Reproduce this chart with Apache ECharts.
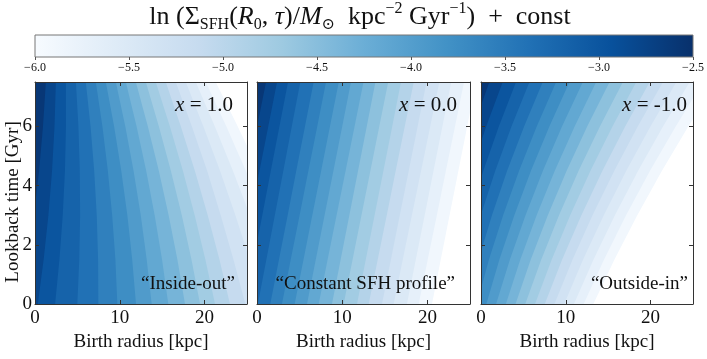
<!DOCTYPE html>
<html>
<head>
<meta charset="utf-8">
<script src="https://cdn.jsdelivr.net/npm/echarts@6/dist/echarts.min.js"></script>
<style>
  html, body { margin: 0; padding: 0; background: #fff; }
  #chart { width: 707px; height: 359px; }
</style>
</head>
<body>
<div id="chart"></div>
<script>
const taus = [0, 1.5, 3, 4.5, 6, 7.5];

// contour levels of ln Sigma_SFH (lowest first)
const levels = [-6.0, -5.806, -5.611, -5.417, -5.222, -5.028, -4.833, -4.639, -4.444,
  -4.25, -4.056, -3.861, -3.667, -3.472, -3.278, -3.083, -2.889, -2.694, -2.5];

// birth radius (kpc) of contour level k at each lookback time, one row per level
const insideOut = [
  [32.99, 30.92, 28.72, 26.38, 23.91, 21.31],
  [30.95, 29.06, 27.03, 24.86, 22.57, 20.14],
  [28.91, 27.18, 25.33, 23.34, 21.21, 18.96],
  [26.87, 25.32, 23.63, 21.82, 19.86, 17.78],
  [24.80, 23.40, 21.90, 20.30, 18.50, 16.60],
  [22.99, 21.75, 20.37, 18.85, 17.20, 15.42],
  [21.23, 20.09, 18.83, 17.44, 15.91, 14.24],
  [19.46, 18.45, 17.31, 16.02, 14.61, 13.07],
  [17.69, 16.79, 15.76, 14.60, 13.31, 11.89],
  [15.72, 14.98, 14.11, 13.11, 11.98, 10.71],
  [13.76, 13.17, 12.47, 11.62, 10.65, 9.53],
  [11.91, 11.46, 10.89, 10.17, 9.33, 8.35],
  [9.71, 9.48, 9.10, 8.59, 7.95, 7.17],
  [7.47, 7.44, 7.28, 6.98, 6.55, 5.99],
  [4.99, 5.22, 5.32, 5.28, 5.12, 4.82],
  [2.37, 2.88, 3.27, 3.53, 3.65, 3.64],
  [0.33, 1.02, 1.58, 2.01, 2.30, 2.46],
  [-1.72, -0.86, -0.12, 0.48, 0.94, 1.28]
];
const constantProfile = [
  [20.54, 21.57, 22.60, 23.64, 24.67, 25.70],
  [18.98, 20.04, 21.11, 22.17, 23.24, 24.30],
  [17.60, 18.64, 19.68, 20.72, 21.76, 22.80],
  [16.04, 17.11, 18.18, 19.26, 20.33, 21.40],
  [14.67, 15.72, 16.76, 17.81, 18.85, 19.90],
  [13.11, 14.17, 15.23, 16.28, 17.34, 18.40],
  [11.74, 12.77, 13.80, 14.84, 15.87, 16.90],
  [10.17, 11.22, 12.26, 13.31, 14.35, 15.40],
  [8.80, 9.82, 10.84, 11.86, 12.88, 13.90],
  [7.24, 8.29, 9.34, 10.40, 11.45, 12.50],
  [5.87, 6.90, 7.93, 8.97, 10.00, 11.03],
  [4.42, 5.46, 6.49, 7.53, 8.56, 9.60],
  [2.93, 3.96, 5.00, 6.03, 7.07, 8.10],
  [1.56, 2.58, 3.60, 4.61, 5.63, 6.65],
  [0.10, 1.10, 2.09, 3.09, 4.08, 5.08],
  [-1.40, -0.39, 0.62, 1.62, 2.63, 3.64],
  [-2.80, -1.77, -0.74, 0.29, 1.32, 2.35],
  [-4.20, -3.15, -2.10, -1.04, 0.01, 1.06]
];
const outsideIn = [
  [13.25, 15.74, 18.43, 21.34, 24.44, 27.76],
  [12.11, 14.51, 17.11, 19.93, 22.96, 26.19],
  [10.96, 13.27, 15.79, 18.53, 21.46, 24.61],
  [9.81, 12.04, 14.48, 17.13, 19.98, 23.04],
  [8.66, 10.80, 13.15, 15.72, 18.48, 21.46],
  [7.52, 9.57, 11.84, 14.32, 17.00, 19.89],
  [6.37, 8.34, 10.52, 12.91, 15.50, 18.31],
  [5.22, 7.11, 9.20, 11.51, 14.02, 16.73],
  [4.07, 5.87, 7.88, 10.10, 12.52, 15.16],
  [2.93, 4.64, 6.56, 8.70, 11.04, 13.58],
  [1.78, 3.41, 5.25, 7.30, 9.55, 12.01],
  [0.63, 2.17, 3.93, 5.89, 8.06, 10.43],
  [-0.51, 0.94, 2.61, 4.49, 6.57, 8.86],
  [-1.66, -0.29, 1.29, 3.08, 5.08, 7.28],
  [-2.81, -1.52, -0.03, 1.68, 3.59, 5.71],
  [-3.96, -2.76, -1.35, 0.27, 2.10, 4.13],
  [-5.10, -3.99, -2.66, -1.13, 0.61, 2.56],
  [-6.25, -5.22, -3.99, -2.53, -0.88, 0.98]
];

const panels = [insideOut, constantProfile, outsideIn];
const panelX = ['1.0', '0.0', '-1.0'];
const panelNotes = ['\u201cInside-out\u201d', '\u201cConstant SFH profile\u201d', '\u201cOutside-in\u201d'];
const cbTicks = [-6.0, -5.5, -5.0, -4.5, -4.0, -3.5, -3.0, -2.5];

// matplotlib "Blues"
const blues = ['#f7fbff', '#deebf7', '#c6dbef', '#9ecae1', '#6baed6', '#4292c6', '#2171b5', '#08519c', '#08306b'];
function hex(c) { return [1, 3, 5].map(i => parseInt(c.slice(i, i + 2), 16)); }
function cmap(v) {
  v = Math.max(0, Math.min(1, v)) * (blues.length - 1);
  const i = Math.min(Math.floor(v), blues.length - 2), t = v - i;
  const a = hex(blues[i]), b = hex(blues[i + 1]);
  return 'rgb(' + a.map((x, j) => Math.round(x + (b[j] - x) * t)).join(',') + ')';
}
const lo = levels[0], hi = levels[levels.length - 1];
function bandColor(i) {
  const mid = (levels[i] + levels[i + 1]) / 2;
  return cmap((mid - lo) / (hi - lo));
}

const serif = '"Liberation Serif", "DejaVu Serif", serif';
const frame = '#333';
const grids = [
  { left: 35, top: 82, width: 212, height: 222 },
  { left: 257, top: 82, width: 213, height: 222 },
  { left: 481, top: 82, width: 212, height: 222 },
  { left: 35, top: 35, width: 658, height: 22 }   // colourbar
];

const xAxis = [], yAxis = [], series = [];
panels.forEach((bounds, p) => {
  const common = {
    gridIndex: p, type: 'value', z: 10,
    axisLine: { show: true, onZero: false, lineStyle: { color: frame, width: 1 } },
    axisTick: { show: true, inside: true, length: 4, lineStyle: { color: frame } },
    splitLine: { show: false }
  };
  const lbl = { fontSize: 19, fontFamily: serif, color: '#111', showMaxLabel: false };
  xAxis.push(Object.assign({}, common, {
    position: 'bottom', min: 0, max: 25, interval: 10,
    axisLabel: Object.assign({ margin: 5 }, lbl),
    name: 'Birth radius [kpc]', nameLocation: 'middle', nameGap: 24,
    nameTextStyle: { fontSize: 19, fontFamily: serif, color: '#111' }
  }));
  xAxis.push(Object.assign({}, common, {
    position: 'top', min: 0, max: 25, interval: 10, axisLabel: { show: false }
  }));
  yAxis.push(Object.assign({}, common, {
    position: 'left', min: 0, max: 7.5, interval: 2,
    axisLabel: Object.assign({ show: p === 0, margin: 3 }, lbl)
  }));
  yAxis.push(Object.assign({}, common, {
    position: 'right', min: 0, max: 7.5, interval: 2, axisLabel: { show: false }
  }));

  // filled contours: paint the region beyond each level, highest level first
  const order = [levels.length - 1];
  for (let k = levels.length - 2; k >= 0; k--) order.push(k);
  series.push({
    type: 'custom', xAxisIndex: 2 * p, yAxisIndex: 2 * p, z: 1, silent: true,
    data: order.map(k => [k, 0]),
    renderItem: (params, api) => {
      const k = api.value(0);
      const cs = params.coordSys;
      let pts, fill;
      if (k === levels.length - 1) {
        pts = [[-10, -1], [40, -1], [40, 9], [-10, 9]].map(d => api.coord(d));
        fill = bandColor(k - 1);
      } else {
        const row = bounds[k];
        pts = [api.coord([row[0], -1])];
        row.forEach((r, j) => pts.push(api.coord([r, taus[j]])));
        pts.push(api.coord([row[row.length - 1], 9]));
        pts.push(api.coord([40, 9]), api.coord([40, -1]));
        fill = k === 0 ? '#ffffff' : bandColor(k - 1);
      }
      return {
        type: 'polygon', shape: { points: pts }, style: { fill: fill },
        clipPath: { type: 'rect', shape: { x: cs.x, y: cs.y, width: cs.width, height: cs.height } }
      };
    }
  });
});

// colourbar axis
xAxis.push({
  gridIndex: 3, type: 'value', min: cbTicks[0], max: cbTicks[cbTicks.length - 1], interval: 0.5, z: 10,
  axisLine: { show: false },
  axisTick: { show: true, length: 3, lineStyle: { color: '#555' } },
  splitLine: { show: false },
  axisLabel: {
    margin: 5, fontSize: 12, fontFamily: serif, color: '#111',
    formatter: v => (v < 0 ? '\u2212' : '') + Math.abs(v).toFixed(1)
  }
});
yAxis.push({ gridIndex: 3, type: 'value', min: 0, max: 1, show: false });
series.push({
  type: 'custom', xAxisIndex: 6, yAxisIndex: 6, silent: true, data: [[0, 0]],
  renderItem: (params, api) => {
    const a = api.coord([cbTicks[0], 1]), b = api.coord([cbTicks[cbTicks.length - 1], 0]);
    return {
      type: 'rect',
      shape: { x: a[0], y: a[1], width: b[0] - a[0], height: b[1] - a[1] },
      style: {
        fill: new echarts.graphic.LinearGradient(0, 0, 1, 0,
          blues.map((c, i) => ({ offset: i / (blues.length - 1), color: c }))),
        stroke: '#777', lineWidth: 1
      }
    };
  }
});

const textStyle = { fontFamily: serif, fill: '#111' };
const graphic = [{
  type: 'text', x: 360, y: 17, silent: true,
  style: Object.assign({}, textStyle, {
    align: 'center', verticalAlign: 'middle', fontSize: 26,
    text: '{n|ln (\u03a3}{sub|SFH}{n|(}{i|R}{sub|0}{n|, }{i|\u03c4}{n|)/}{i|M}{sub|\u2299}{n|  kpc}{sup|\u22122}{n| Gyr}{sup|\u22121}{n|)  +  const}',
    rich: {
      n: { fontSize: 26, fontFamily: serif, fill: '#111', lineHeight: 32 },
      i: { fontSize: 26, fontFamily: serif, fontStyle: 'italic', fill: '#111', lineHeight: 32 },
      sub: { fontSize: 16, fontFamily: serif, fill: '#111', verticalAlign: 'bottom', lineHeight: 15 },
      sup: { fontSize: 16, fontFamily: serif, fill: '#111', verticalAlign: 'top', lineHeight: 15 }
    }
  })
}, {
  type: 'text', x: 13, y: 202, rotation: Math.PI / 2, silent: true,
  style: Object.assign({}, textStyle, {
    align: 'center', verticalAlign: 'middle', fontSize: 19, text: 'Lookback time [Gyr]'
  })
}];
const labelRight = [233, 457, 687];
const noteRight = [235, 455, 688];
panelX.forEach((x, p) => {
  graphic.push({
    type: 'text', x: labelRight[p], y: 105, silent: true, z: 20,
    style: Object.assign({}, textStyle, {
      align: 'right', verticalAlign: 'middle', fontSize: 21,
      text: '{i|x} = ' + x,
      rich: { i: { fontSize: 21, fontFamily: serif, fontStyle: 'italic', fill: '#111' } }
    })
  });
  graphic.push({
    type: 'text', x: noteRight[p], y: 284, silent: true, z: 20,
    style: Object.assign({}, textStyle, {
      align: 'right', verticalAlign: 'middle', fontSize: 19, text: panelNotes[p]
    })
  });
});

const chart = echarts.init(document.getElementById('chart'), null, { renderer: 'canvas' });
chart.setOption({
  animation: false,
  backgroundColor: '#fff',
  grid: grids,
  xAxis: xAxis,
  yAxis: yAxis,
  series: series,
  graphic: graphic
});
</script>
</body>
</html>
